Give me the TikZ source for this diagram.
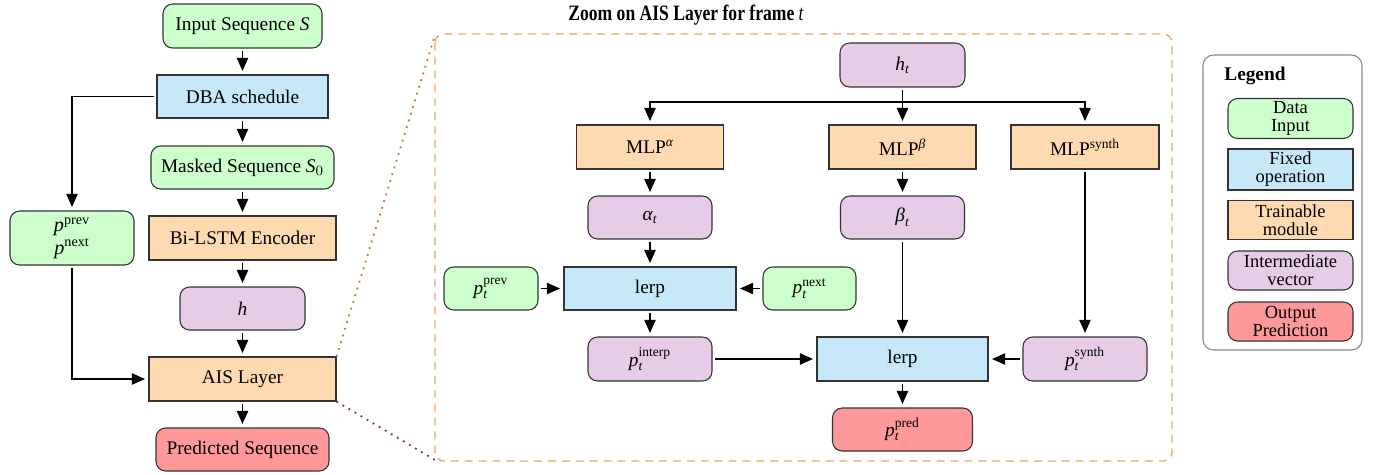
\documentclass[tikz,border=0pt]{standalone}
\usepackage{amsmath}
\usepackage{fontspec}
\setmainfont{Liberation Serif}
\usetikzlibrary{arrows.meta}
\newcommand{\iv}[1]{\text{\itshape #1}}
\newcommand{\uv}[1]{\text{\upshape #1}}
\definecolor{cgreen}{HTML}{CCFFCC}
\definecolor{cblue}{HTML}{C6E8F8}
\definecolor{corange}{HTML}{FFDAB0}
\definecolor{cpurple}{HTML}{E6CCE6}
\definecolor{cred}{HTML}{FF9999}
\definecolor{cborder}{HTML}{333333}
\definecolor{cdash}{HTML}{F4A460}
\definecolor{cdottop}{HTML}{C8702A}
\definecolor{cdotbot}{HTML}{8B2252}
\definecolor{clegend}{HTML}{888888}
\tikzset{
 base/.style={draw=cborder, line width=0.6pt, inner sep=0pt, align=center},
 sz/.style 2 args={minimum width={#1*0.02cm}, minimum height={#2*0.02cm}},
 rnd/.style={base, rounded corners=5.5pt},
 datain/.style={rnd, fill=cgreen},
 fixedop/.style={base, fill=cblue},
 trainmod/.style={base, fill=corange},
 intervec/.style={rnd, fill=cpurple},
 outpred/.style={rnd, fill=cred},
 legtext/.style={font=\fontsize{10.5}{10.2}\selectfont},
 arr/.style={-{Triangle[length=7.5pt,width=6.5pt]}, line width=0.75pt, shorten <=1.5pt, shorten >=2pt},
 plainline/.style={line width=0.75pt},
 dotline/.style={line width=1pt, dash pattern=on 1pt off 3pt},
}
\begin{document}
\begin{tikzpicture}[x=0.02cm,y=-0.02cm, font=\fontsize{11}{9.4}\selectfont]
\useasboundingbox (0,0) rectangle (1374,474);

% ---------- left column ----------
\node[datain, sz={159}{44}] (in) at (242.5,26) {Input Sequence $\iv{S}$};
\node[fixedop, sz={171}{43}] (dba) at (242.5,96.5) {DBA schedule};
\node[datain, sz={183}{43}] (mask) at (242.5,167.5) {Masked Sequence $\iv{S}_{0}$};
\node[trainmod, sz={187}{44}] (bil) at (242.5,238) {Bi-LSTM Encoder};
\node[intervec, sz={125}{43}] (h) at (242.5,308.5) {$\iv{h}$};
\node[trainmod, sz={187}{44}] (ais) at (242.5,379) {AIS Layer};
\node[outpred, sz={173}{43}] (pred) at (242.5,449.5) {Predicted Sequence};
\node[datain, sz={124}{54}, font=\fontsize{11.5}{12.8}\selectfont] (ppn) at (72,238) {$\iv{p}^{\uv{prev}}$\\$\iv{p}^{\uv{next}}$};

\draw[arr] (in) -- (dba);
\draw[arr] (dba) -- (mask);
\draw[arr] (mask) -- (bil);
\draw[arr] (bil) -- (h);
\draw[arr] (h) -- (ais);
\draw[arr] (ais) -- (pred);
\draw[arr] (dba.west) -| (ppn.north);
\draw[arr] (ppn.south) |- (ais.west);

% ---------- zoom box ----------
\node[font=\fontsize{12.5}{14}\selectfont\bfseries, xscale=0.8] (title) at (686,15) {Zoom on AIS Layer for frame {\mdseries\itshape t}};
\draw[cdash, line width=0.8pt, dash pattern=on 4.5pt off 3.4pt, rounded corners=5pt] (435,34) rectangle (1172,461);
\coordinate (zt) at (435,35);
\coordinate (zb) at (435,460);
\draw[cdottop, dotline] (ais.north east) -- (zt);
\draw[cdotbot, dotline] (ais.south east) -- (zb);

\node[intervec, sz={125}{44}] (ht) at (902.5,65) {$\iv{h}_{\iv{t}}$};
\node[trainmod, sz={147}{44}] (ma) at (650,147) {MLP$^{\iv{α}}$};
\node[trainmod, sz={147}{44}] (mb) at (902.5,147) {MLP$^{\iv{β}}$};
\node[trainmod, sz={148}{44}] (ms) at (1085,147) {MLP$^{\uv{synth}}$};
\node[intervec, sz={124}{43}] (at) at (650,217.5) {$\iv{α}_{\iv{t}}$};
\node[intervec, sz={124}{43}] (bt) at (902.5,217.5) {$\iv{β}_{\iv{t}}$};
\node[datain, sz={94}{43}] (pp) at (491,288.5) {$\iv{p}_{\iv{t}}^{\uv{prev}}$};
\node[fixedop, sz={172}{43}] (la) at (650,288.5) {lerp};
\node[datain, sz={93}{43}] (pn) at (809.5,288.5) {$\iv{p}_{\iv{t}}^{\uv{next}}$};
\node[intervec, sz={124}{44}] (pi) at (650,359) {$\iv{p}_{\iv{t}}^{\uv{interp}}$};
\node[fixedop, sz={171}{44}] (lb) at (902.5,359) {lerp};
\node[intervec, sz={124}{44}] (ps) at (1085,359) {$\iv{p}_{\iv{t}}^{\uv{synth}}$};
\node[outpred, sz={140}{43}] (pd) at (902.5,429.5) {$\iv{p}_{\iv{t}}^{\uv{pred}}$};

\coordinate (j) at (902.5,102);
\draw[plainline, shorten <=1.5pt] (ht.south) -- (j);
\draw[arr, shorten <=0pt] (j) -| (ma.north);
\draw[arr, shorten <=0pt] (j) -- (mb.north);
\draw[arr, shorten <=0pt] (j) -| (ms.north);
\draw[arr] (ma) -- (at);
\draw[arr] (mb) -- (bt);
\draw[arr] (at) -- (la);
\draw[arr] (pp) -- (la);
\draw[arr] (pn) -- (la);
\draw[arr] (la) -- (pi);
\draw[arr] (bt) -- (lb);
\draw[arr] (ms) -- (ps);
\draw[arr] (pi) -- (lb);
\draw[arr] (ps) -- (lb);
\draw[arr] (lb) -- (pd);

% ---------- legend ----------
\draw[clegend, line width=0.6pt, rounded corners=6pt] (1203,55) rectangle (1362,350);
\node[anchor=west, inner sep=0pt, font=\fontsize{11}{13}\selectfont\bfseries] (lgt) at (1224,76) {Legend};
\node[datain, legtext, sz={125}{40}] (lg1) at (1290.5,118.5) {Data\\Input};
\node[fixedop, legtext, sz={125}{41}] (lg2) at (1290.5,169.5) {Fixed\\operation};
\node[trainmod, legtext, sz={125}{39}] (lg3) at (1290.5,220) {Trainable\\module};
\node[intervec, legtext, sz={125}{39}] (lg4) at (1290.5,270.5) {Intermediate\\vector};
\node[outpred, legtext, sz={125}{39}] (lg5) at (1290.5,321.5) {Output\\Prediction};
\end{tikzpicture}
\end{document}
